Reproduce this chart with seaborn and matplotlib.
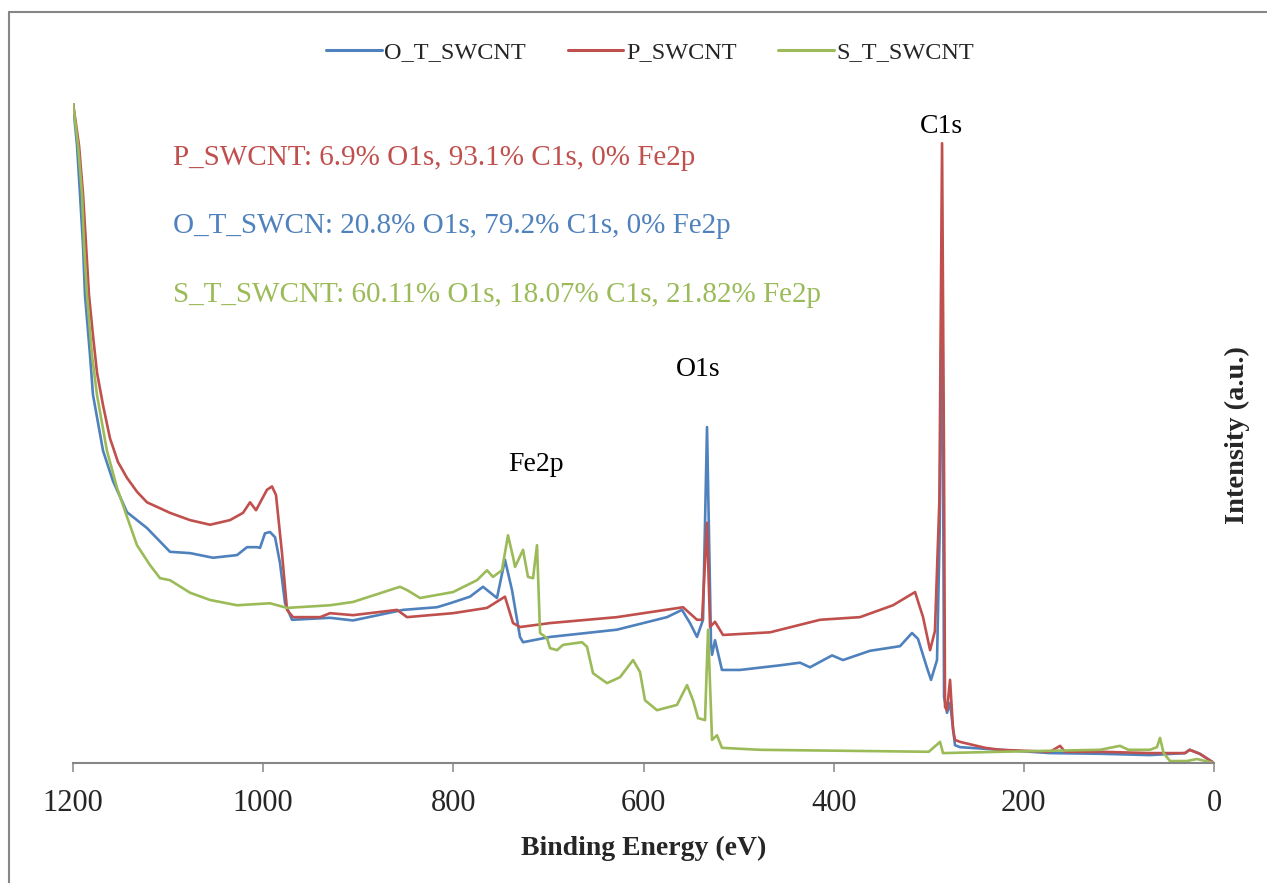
import pandas as pd
import matplotlib.pyplot as plt
import seaborn as sns
from matplotlib.lines import Line2D

sns.set_theme(style="white")
plt.rcParams['font.family'] = ['Liberation Serif', 'DejaVu Serif']

# Binding energy (eV) and intensity (a.u.)
o_t_energy = [1200, 1195.8, 1192.6, 1189.5, 1187.4, 1182.1, 1179.0, 1168.4, 1157.9, 1143.2,
              1122.2, 1098.0, 1076.9, 1052.8, 1027.5,
              1017.0, 1006.5, 1003.3, 998.1, 992.8, 987.5, 982.3, 977.0, 969.7, 929.7,
              905.5, 852.9, 817.2, 803.5, 782.5, 768.8, 754.1, 745.7, 738.3, 729.9,
              726.7, 698.3, 627.9, 575.3, 559.5, 551.1, 543.7, 537.4, 533.2, 529.0,
              527.9, 524.8, 517.5, 498.5, 456.4, 435.4, 424.9, 401.7, 390.2, 361.8,
              330.2, 317.6, 311.3, 301.8, 297.6, 291.3, 288.5, 286.0, 283.9, 280.8,
              277.6, 272.4, 267.1, 225.0, 172.4, 119.9, 67.3, 30.5, 25.6, 15.0, 0]
o_t_intensity = [100, 93.6, 86.1, 78.5, 70.9, 61.8, 55.8, 47.3, 42.7, 38.0,
                 35.6, 32.0, 31.8, 31.1, 31.5,
                 32.7, 32.7, 32.6, 34.8, 35.0, 34.2, 30.3, 24.2, 21.7, 22.0,
                 21.6, 23.2, 23.6, 24.2, 25.2, 26.7, 25.0, 30.8, 26.2, 19.1,
                 18.3, 19.1, 20.2, 22.1, 23.2, 21.2, 19.1, 21.7, 50.9, 18.0,
                 16.4, 18.6, 14.1, 14.1, 14.8, 15.2, 14.5, 16.3, 15.6, 17.0,
                 17.7, 19.7, 18.8, 14.4, 12.6, 15.6, 35.0, 80.0, 10.0, 7.6,
                 9.1, 2.7, 2.4, 2.0, 1.5, 1.4, 1.2, 1.5, 2.0, 1.4, 0]

p_energy = [1200, 1193.7, 1189.4, 1186.3, 1183.2, 1179.0, 1174.8, 1168.4, 1161.1, 1152.7,
            1143.2, 1132.7, 1122.2, 1108.5, 1098.0, 1076.9, 1055.9,
            1034.9, 1021.2, 1013.8, 1007.5, 996.0, 990.7, 986.5, 980.2, 974.9, 968.6,
            940.0, 929.7, 905.5, 859.2, 848.7, 800.3, 764.6, 745.7, 737.2, 729.9,
            698.3, 627.9, 558.4, 543.7, 538.4, 533.2, 530.0, 524.8, 516.4, 466.9,
            414.3, 372.3, 337.6, 314.4, 306.0, 298.6, 293.5, 288.8, 286.0, 284.0,
            282.9, 280.8, 277.6, 274.4, 272.4, 267.1, 240.8, 225.0, 172.4, 161.9,
            156.7, 119.9, 67.3, 30.5, 25.6, 15.0, 0]
p_intensity = [100, 93.6, 86.1, 78.5, 70.9, 64.8, 59.2, 54.2, 49.2, 45.6,
               43.2, 41.1, 39.5, 38.6, 37.9, 36.8, 36.1,
               36.8, 37.9, 39.5, 38.3, 41.4, 41.9, 40.6, 31.8, 23.2, 22.1,
               22.1, 22.7, 22.4, 23.2, 22.1, 22.7, 23.5, 25.2, 21.2, 20.6,
               21.2, 22.1, 23.6, 21.7, 21.7, 36.4, 20.6, 21.4, 19.4, 19.8,
               21.7, 22.1, 23.9, 25.9, 22.1, 17.1, 20.0, 39.8, 93.9, 47.0,
               8.5, 8.0, 12.6, 5.0, 3.5, 3.2, 2.3, 2.0, 1.7, 2.6,
               1.7, 1.7, 1.5, 1.5, 2.0, 1.4, 0]

s_t_energy = [1200, 1194.7, 1190.5, 1188.4, 1185.3, 1180.0, 1174.8, 1164.3, 1153.7, 1143.2,
              1132.7, 1119.1, 1108.5, 1098.0, 1076.9, 1055.9, 1027.5,
              992.8, 974.9, 929.7, 905.5, 856.1, 848.7, 835.0, 800.3, 775.1, 764.6,
              758.3, 748.9, 742.5, 737.2, 735.1, 726.7, 721.5, 716.2, 712.0, 708.8,
              701.5, 698.3, 690.9, 684.6, 664.6, 659.4, 653.1, 638.4, 624.7, 611.0,
              603.7, 598.4, 585.8, 564.8, 554.2, 547.9, 542.6, 535.3, 532.1, 527.9,
              522.7, 517.5, 477.5, 300.0, 288.1, 285.0, 225.0, 119.9, 98.9, 90.0,
              67.3, 60.0, 56.8, 53.0, 46.3, 28.4, 18.0, 0]
s_t_intensity = [100, 93.6, 86.1, 78.5, 70.9, 61.8, 55.8, 47.3, 41.7, 37.3,
                 33.0, 30.0, 28.0, 27.7, 25.8, 24.7, 23.9,
                 24.2, 23.5, 23.9, 24.4, 26.7, 26.2, 25.0, 25.9, 27.7, 29.2,
                 28.2, 29.2, 34.5, 31.2, 29.7, 32.3, 28.2, 28.0, 33.0, 19.7,
                 18.9, 17.4, 17.1, 17.9, 18.3, 17.6, 13.6, 12.1, 13.0, 15.6,
                 13.8, 9.5, 8.0, 8.8, 11.8, 9.5, 6.8, 6.5, 20.2, 3.5,
                 4.2, 2.3, 2.0, 1.7, 3.2, 1.5, 1.7, 2.0, 2.6, 2.0,
                 2.0, 2.4, 3.8, 1.5, 0.3, 0.3, 0.6, 0]

series_names = ['O_T_SWCNT', 'P_SWCNT', 'S_T_SWCNT']
series_colors = ['#4F81BD', '#C0504D', '#9BBB59']
composition_notes = ['P_SWCNT: 6.9% O1s, 93.1% C1s, 0% Fe2p',
                     'O_T_SWCN: 20.8% O1s, 79.2% C1s, 0% Fe2p',
                     'S_T_SWCNT: 60.11% O1s, 18.07% C1s, 21.82% Fe2p']
note_colors = ['#C0504D', '#4F81BD', '#9BBB59']
peak_labels = ['C1s', 'O1s', 'Fe2p']
peak_positions = [(287, 96.5), (543, 59.6), (713, 45.2)]

frames = []
for name, e, i in zip(series_names,
                      [o_t_energy, p_energy, s_t_energy],
                      [o_t_intensity, p_intensity, s_t_intensity]):
    frames.append(pd.DataFrame({'Binding Energy (eV)': e, 'Intensity': i, 'Sample': name}))
spectra = pd.concat(frames, ignore_index=True)

fig = plt.figure(figsize=(12.67, 8.83), dpi=100)
ax = fig.add_axes([73 / 1267, 120 / 883, 1141 / 1267, 660 / 883])

sns.lineplot(data=spectra, x='Binding Energy (eV)', y='Intensity', hue='Sample',
             hue_order=series_names, palette=series_colors, estimator=None,
             linewidth=1.9, ax=ax, legend=False)

ax.set_xlim(1200, 0)
ax.set_ylim(0, 100)
ax.set_xticks([1200, 1000, 800, 600, 400, 200, 0])
ax.set_yticks([])
ax.set_ylabel('')
for side in ['top', 'right', 'left']:
    ax.spines[side].set_visible(False)
ax.spines['bottom'].set_color('#868686')
ax.spines['bottom'].set_linewidth(1.5)
ax.tick_params(axis='x', direction='out', length=6.5, width=1.1, color='#868686',
               pad=12, labelsize=22, bottom=True)
ax.set_xlabel('Binding Energy (eV)', fontsize=20, fontweight='bold', labelpad=13)
ax.patch.set_alpha(0)

# composition notes
for k, (note, col) in enumerate(zip(composition_notes, note_colors)):
    ax.text(1095, 91.7 - k * 10.4, note, color=col, fontsize=21, ha='left', va='center')

# peak labels
for lab, (px, py) in zip(peak_labels, peak_positions):
    ax.text(px, py, lab, fontsize=20, ha='center', va='center', color='black')

# legend on top
handles = [Line2D([0], [0], color=c, lw=2.2) for c in series_colors]
fig.legend(handles, series_names, loc='center', bbox_to_anchor=(650 / 1267, 1 - 52 / 883),
           ncol=3, frameon=False, fontsize=17.5, handlelength=2.3, columnspacing=1.7,
           handletextpad=0.1)

fig.text(1237 / 1267, 1 - 435 / 883, 'Intensity (a.u.)', rotation=90, fontsize=20.5,
         fontweight='bold', ha='center', va='center')

# chart border
fig.add_artist(Line2D([9 / 1267, 9 / 1267], [0, 1 - 12 / 883], color='#868686', lw=1.5,
                      transform=fig.transFigure))
fig.add_artist(Line2D([9 / 1267, 1], [1 - 12 / 883, 1 - 12 / 883], color='#868686', lw=1.5,
                      transform=fig.transFigure))

fig.savefig('out.png', dpi=100)
